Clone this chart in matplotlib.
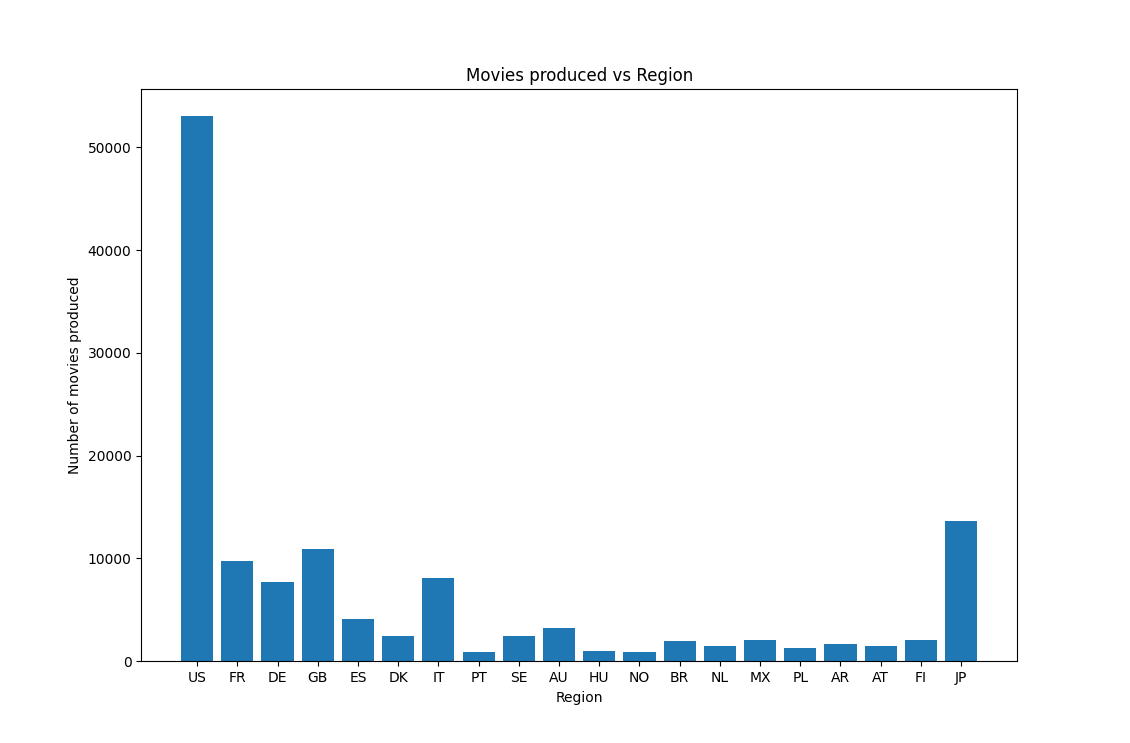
import matplotlib
matplotlib.use("Agg")
import matplotlib.pyplot as plt

# Movies produced per region
regions = ["US", "FR", "DE", "GB", "ES", "DK", "IT", "PT", "SE", "AU",
           "HU", "NO", "BR", "NL", "MX", "PL", "AR", "AT", "FI", "JP"]
counts = [53000, 9800, 7700, 10900, 4100, 2500, 8070, 900, 2430, 3200,
          1000, 900, 1950, 1450, 2050, 1270, 1650, 1450, 2050, 13600]

plt.figure(figsize=(11.3, 7.43), dpi=100)
plt.bar(regions, counts)
plt.title("Movies produced vs Region")
plt.xlabel("Region")
plt.ylabel("Number of movies produced")
plt.savefig("out.png", dpi=100)
